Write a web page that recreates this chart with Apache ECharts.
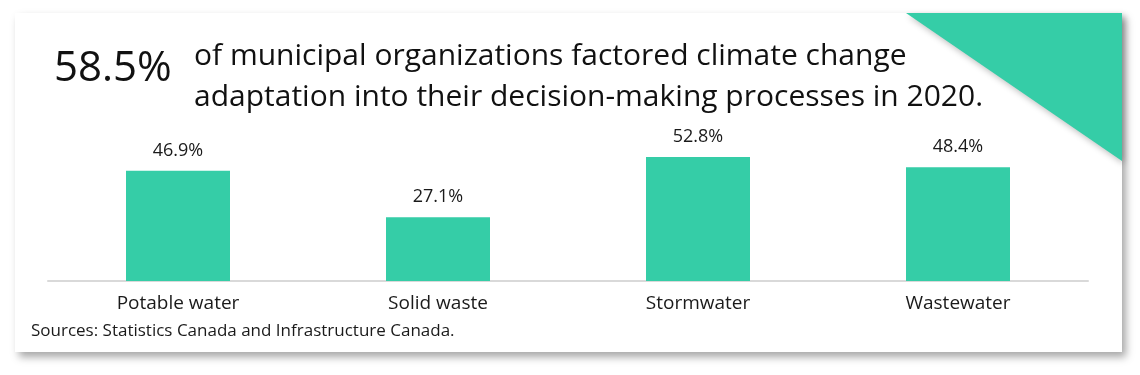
<!DOCTYPE html>
<html>
<head>
<meta charset="utf-8">
<script src="https://cdn.jsdelivr.net/npm/echarts@6/dist/echarts.min.js"></script>
<style>
  body { margin: 0; background: #fff; }
  #chart { width: 1140px; height: 375px; }
</style>
</head>
<body>
<div id="chart"></div>
<script>
const categories = ['Potable water', 'Solid waste', 'Stormwater', 'Wastewater']
const shares = [46.9, 27.1, 52.8, 48.4]
const headlineValue = '58.5%'
const headlineText = ['of municipal organizations factored climate change',
  'adaptation into their decision-making processes in 2020.']
const sourceText = 'Sources: Statistics Canada and Infrastructure Canada.'

const teal = '#35cda7'
const font = '"Open Sans", "Noto Sans", sans-serif'

const myChart = echarts.init(document.getElementById('chart'))
const option = {
  backgroundColor: '#fff',
  animation: false,
  textStyle: { fontFamily: font },
  grid: { left: 48, right: 52, top: 140, bottom: 94 },
  xAxis: {
    type: 'category',
    data: categories,
    axisLine: { lineStyle: { color: '#d9d9d9', width: 2 } },
    axisTick: { show: false },
    axisLabel: { color: '#1a1a1a', fontSize: 19, margin: 13, fontFamily: font }
  },
  yAxis: {
    type: 'value',
    min: 0,
    max: 60,
    show: false
  },
  graphic: [
    {
      type: 'rect',
      z: -10,
      shape: { x: 15, y: 13, width: 1107, height: 339 },
      style: { fill: '#fff', shadowBlur: 8, shadowOffsetX: 4, shadowOffsetY: 5, shadowColor: 'rgba(0,0,0,0.35)' }
    },
    {
      type: 'polygon',
      z: -5,
      shape: { points: [[906, 13], [1122, 13], [1122, 161]] },
      style: { fill: teal, shadowBlur: 6, shadowOffsetX: 2, shadowOffsetY: 3, shadowColor: 'rgba(0,0,0,0.25)' }
    },
    {
      type: 'text',
      left: 54,
      top: 48,
      style: { text: headlineValue, fontSize: 42, fill: '#111', fontFamily: font }
    },
    {
      type: 'text',
      left: 194,
      top: 36,
      style: { text: headlineText.join('\n'), fontSize: 30, lineHeight: 41, fill: '#111', fontFamily: font }
    },
    {
      type: 'text',
      left: 31,
      top: 323,
      style: { text: sourceText, fontSize: 17, fill: '#1a1a1a', fontFamily: font }
    }
  ],
  series: [
    {
      type: 'bar',
      data: shares,
      barWidth: '40%',
      itemStyle: { color: teal },
      label: {
        show: true,
        position: 'top',
        distance: 11,
        fontSize: 18,
        color: '#1a1a1a',
        fontFamily: font,
        formatter: p => p.value + '%'
      }
    }
  ]
}
myChart.setOption(option)
</script>
</body>
</html>
